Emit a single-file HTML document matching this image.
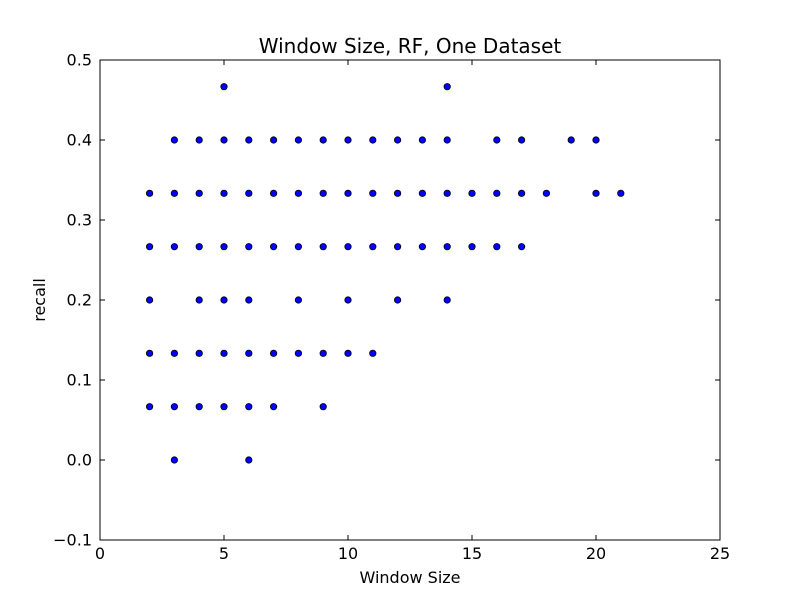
<!DOCTYPE html>
<html><head><meta charset="utf-8"><style>body{margin:0;background:#fff}svg{display:block;font-family:"DejaVu Sans","Liberation Sans",sans-serif}</style></head>
<body>
<svg id="chart" width="800" height="600" xmlns="http://www.w3.org/2000/svg">
<rect width="800" height="600" fill="#fff"/>
<g id="marks"></g>
<g id="axes"></g>
</svg>
<script>
const windowSizes = [2,2,2,2,2, 3,3,3,3,3,3, 4,4,4,4,4,4, 5,5,5,5,5,5,5, 6,6,6,6,6,6,6, 7,7,7,7,7, 8,8,8,8,8, 9,9,9,9,9, 10,10,10,10,10, 11,11,11,11, 12,12,12,12, 13,13,13, 14,14,14,14,14, 15,15, 16,16,16, 17,17,17, 18, 19, 20,20, 21];
const recallFifteenths = [1,2,3,4,5, 0,1,2,4,5,6, 1,2,3,4,5,6, 1,2,3,4,5,6,7, 0,1,2,3,4,5,6, 1,2,4,5,6, 2,3,4,5,6, 1,2,4,5,6, 2,3,4,5,6, 2,4,5,6, 3,4,5,6, 4,5,6, 3,4,5,6,7, 4,5, 4,5,6, 4,5,6, 5, 6, 5,6, 5];
const recallValues = recallFifteenths.map(v => v/15);
const xTicks = [0,5,10,15,20,25];
const yTicks = [-0.1,0.0,0.1,0.2,0.3,0.4,0.5];
const yTickLabels = ["\u22120.1","0.0","0.1","0.2","0.3","0.4","0.5"];

const L=100,R=720,T=60,B=540;
const xs = v => L + (v-0)/(25-0)*(R-L);
const ys = v => B - (v+0.1)/(0.6)*(B-T);
const NS="http://www.w3.org/2000/svg";
function mk(tag, attrs, parent, text){const e=document.createElementNS(NS,tag);for(const k in attrs)e.setAttribute(k,attrs[k]);if(text!==undefined)e.textContent=text;parent.appendChild(e);return e;}
const marks=document.getElementById('marks'), axes=document.getElementById('axes');
windowSizes.forEach((x,i)=>{
  const c=mk('circle',{cx:xs(x),cy:ys(recallValues[i]),r:3.2,fill:'#0000ff',stroke:'#000','stroke-width':0.8},marks);
  
  
});
const frame=mk('rect',{x:L,y:T,width:R-L,height:B-T,fill:'none',stroke:'#000','stroke-width':1},axes);


xTicks.forEach(t=>{
  const x=xs(t);
  mk('line',{x1:x,y1:B,x2:x,y2:B-5,stroke:'#000'},axes);
  mk('line',{x1:x,y1:T,x2:x,y2:T+5,stroke:'#000'},axes);
  const tx=mk('text',{x:x,y:B+19,'text-anchor':'middle','font-size':16},axes,String(t));
  
  
});
yTicks.forEach((t,i)=>{
  const y=ys(t);
  mk('line',{x1:L,y1:y,x2:L+5,y2:y,stroke:'#000'},axes);
  mk('line',{x1:R,y1:y,x2:R-5,y2:y,stroke:'#000'},axes);
  const tx=mk('text',{x:L-8,y:y+5.5,'text-anchor':'end','font-size':16},axes,yTickLabels[i]);
  
  
});
const title=mk('text',{x:410,y:53,'text-anchor':'middle','font-size':20},axes,'Window Size, RF, One Dataset');


const xl=mk('text',{x:410,y:583,'text-anchor':'middle','font-size':16},axes,'Window Size');


const yl=mk('text',{x:45,y:300,'text-anchor':'middle','font-size':16,transform:'rotate(-90 45 300)'},axes,'recall');


</script>
</body></html>
